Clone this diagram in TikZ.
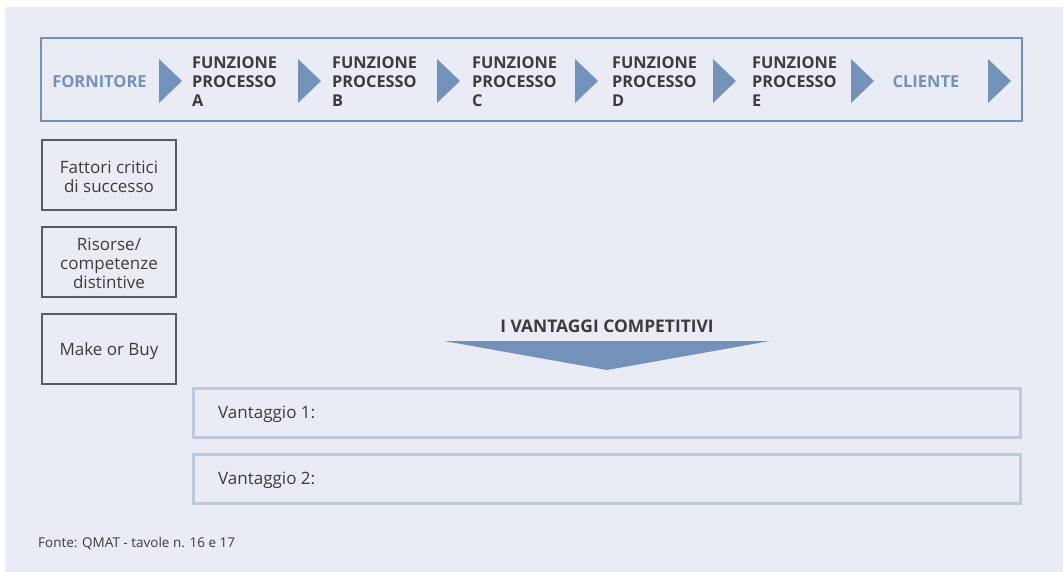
\documentclass[tikz,border=0pt]{standalone}
\usepackage{fontspec}
\setmainfont{Open Sans}
\definecolor{bgc}{HTML}{E9ECF4}
\definecolor{stripc}{HTML}{7392B9}
\definecolor{darkbox}{HTML}{555A64}
\definecolor{txt}{HTML}{3C3C3C}
\definecolor{vbox}{HTML}{BCC8DC}
\begin{document}
\begin{tikzpicture}[x=1pt,y=-1pt,
  capbold/.style={font=\fontsize{16.3}{19}\selectfont\bfseries,text=txt,anchor=west,align=left,inner sep=0},
  endlabel/.style={font=\fontsize{16.5}{19}\selectfont\bfseries,text=stripc,anchor=center,inner sep=0},
  leftbox/.style={draw=darkbox,line width=2pt,minimum width=134pt,minimum height=70pt},
  boxtext/.style={align=center,font=\fontsize{17}{19}\selectfont,text=txt,inner sep=0},
  vantbox/.style={draw=vbox,line width=3pt},
  vlabel/.style={font=\fontsize{17}{19}\selectfont,text=txt,anchor=west,inner sep=0}]
\useasboundingbox (0,0) rectangle (1063,572);
\fill[white] (0,0) rectangle (1063,572);
\fill[bgc] (5,7) rectangle (1063,572);
% top strip
\draw[stripc,line width=2pt] (41,38) rectangle (1022,121);
\node[endlabel] (forn) at (99.5,81.5) {FORNITORE};
\node[capbold] (fa) at (192,82) {FUNZIONE\\PROCESSO\\A};
\node[capbold] (fb) at (332,82) {FUNZIONE\\PROCESSO\\B};
\node[capbold] (fc) at (472,82) {FUNZIONE\\PROCESSO\\C};
\node[capbold] (fd) at (612,82) {FUNZIONE\\PROCESSO\\D};
\node[capbold] (fe) at (752,82) {FUNZIONE\\PROCESSO\\E};
\node[endlabel] (cli) at (926,81.5) {CLIENTE};
\foreach \x in {159,298,437,575,713,851,988}{
  \fill[stripc] (\x,59) -- (\x+23,81) -- (\x,103) -- cycle;
}
% left boxes
\node[leftbox] (b1) at (109,175) {};
\node[leftbox] (b2) at (109,262) {};
\node[leftbox] (b3) at (109,349) {};
\node[boxtext] (t1) at (109,177) {Fattori critici\\di successo};
\node[boxtext] (t2) at (109,263.5) {Risorse/\\competenze\\distintive};
\node[boxtext] (t3) at (109,351.5) {Make or Buy};
% big arrow
\node[font=\fontsize{17.4}{19}\selectfont\bfseries,text=txt,inner sep=0] (vt) at (607,326.5) {I VANTAGGI COMPETITIVI};
\fill[stripc] (444,341) -- (770,341) -- (607,370) -- cycle;
% vantaggi boxes
\draw[vantbox] (193,388) rectangle (1020,437);
\draw[vantbox] (193,454) rectangle (1020,503);
\node[vlabel] (v1) at (218,414) {Vantaggio 1:};
\node[vlabel] (v2) at (218,480) {Vantaggio 2:};
% footer
\node[font=\fontsize{13.5}{15}\selectfont,text=txt,anchor=west,inner sep=0] (src) at (38,543.5) {Fonte: QMAT - tavole n. 16 e 17};
\end{tikzpicture}
\end{document}
